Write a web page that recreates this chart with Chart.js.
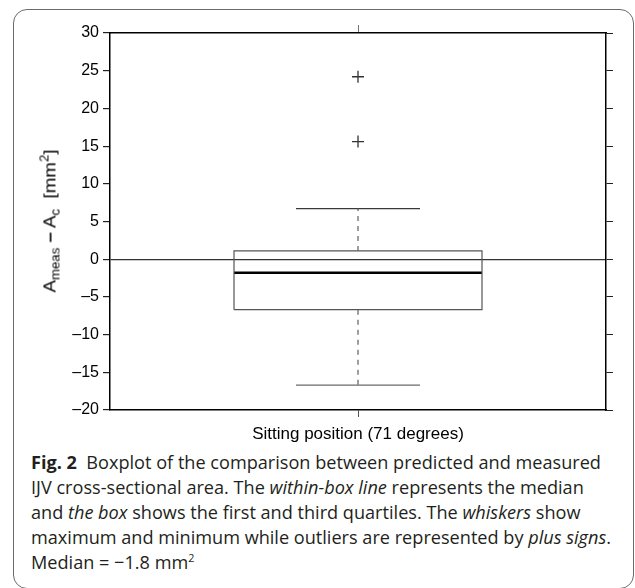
<!DOCTYPE html>
<html>
<head>
<meta charset="utf-8">
<script src="https://cdn.jsdelivr.net/npm/chart.js@4/dist/chart.umd.min.js"></script>
<style>
  html, body { margin: 0; padding: 0; background: #fff; }
  body { width: 635px; height: 588px; position: relative; overflow: hidden; }
  #frame {
    position: absolute; left: 13px; top: 9px; width: 621px; height: 580px;
    box-sizing: border-box; border: 1.5px solid #6b6b6b; border-radius: 14px;
  }
  #chartBox { position: absolute; left: 0; top: 0; width: 635px; height: 445px; }
  #ytitle {
    position: absolute; left: 50px; top: 221px; white-space: nowrap;
    font-family: "Liberation Sans", Arial, sans-serif; font-size: 17px; color: #000;
    transform: translate(-50%, -50%) rotate(-90deg);
  }
  #ytitle sub, #ytitle sup { font-size: 12px; }
  #caption {
    position: absolute; left: 31px; top: 449px; color: #231f20;
    font-family: "Open Sans", "Noto Sans", sans-serif; font-size: 18.5px; line-height: 25px;
    transform-origin: 0 0;
  }
  #caption div { white-space: nowrap; }
  #caption sup { font-size: 11px; line-height: 0; }
</style>
</head>
<body>
<div id="frame"></div>
<div id="chartBox"><canvas id="boxChart"></canvas></div>
<div id="ytitle">A<sub>meas</sub> <b>–</b> A<sub>c</sub>&nbsp; [mm<sup>2</sup>]</div>
<div id="caption">
  <div id="capLine1"><b>Fig. 2</b>&nbsp; Boxplot of the comparison between predicted and measured</div>
  <div>IJV cross-sectional area. The <i>within-box line</i> represents the median</div>
  <div>and <i>the box</i> shows the first and third quartiles. The <i>whiskers</i> show</div>
  <div>maximum and minimum while outliers are represented by <i>plus signs</i>.</div>
  <div>Median = −1.8 mm<sup>2</sup></div>
</div>
<script>
// data
const categories = ['Sitting position (71 degrees)'];
const quartiles = [-6.7, 1.1];     // Q1, Q3
const medians = [-1.8];
const whiskers = [-16.7, 6.7];     // min, max
const outliers = [15.6, 24.2];
const yTicks = [-20, -15, -10, -5, 0, 5, 10, 15, 20, 25, 30];

const center = 1;      // position of the single group on the x scale
const halfBox = 0.5;
const halfCap = 0.25;

const boxData = [
  { x: center - halfBox, y: quartiles[0] },
  { x: center + halfBox, y: quartiles[0] },
  { x: center + halfBox, y: quartiles[1] },
  { x: center - halfBox, y: quartiles[1] },
  { x: center - halfBox, y: quartiles[0] }
];

const lineDs = (data, color, width, dash) => ({
  data: data, showLine: true, borderColor: color, borderWidth: width,
  borderDash: dash || [], pointRadius: 0, tension: 0, fill: false
});

const fmt = v => (v < 0 ? '\u2013' + Math.abs(v) : String(v));
const tickFont = { family: '"Liberation Sans", Arial, sans-serif', size: 16 };

const ctx = document.getElementById('boxChart').getContext('2d');
new Chart(ctx, {
  type: 'scatter',
  data: {
    datasets: [
      lineDs([{ x: center, y: quartiles[1] }, { x: center, y: whiskers[1] }], '#6a6a6a', 1.3, [5, 5]),
      lineDs([{ x: center, y: quartiles[0] }, { x: center, y: whiskers[0] }], '#6a6a6a', 1.3, [5, 5]),
      lineDs([{ x: center - halfCap, y: whiskers[1] }, { x: center + halfCap, y: whiskers[1] }], '#3a3a3a', 1.2),
      lineDs([{ x: center - halfCap, y: whiskers[0] }, { x: center + halfCap, y: whiskers[0] }], '#6a6a6a', 1.2),
      lineDs(boxData, '#555', 1.2),
      lineDs([{ x: center - halfBox, y: medians[0] }, { x: center + halfBox, y: medians[0] }], '#000', 2.5),
      {
        data: outliers.map(v => ({ x: center, y: v })),
        pointStyle: 'cross', pointRadius: 6, borderColor: '#333', borderWidth: 1.3,
        backgroundColor: '#333'
      }
    ]
  },
  options: {
    responsive: true,
    maintainAspectRatio: false,
    animation: false,
    layout: { padding: 0 },
    plugins: { legend: { display: false }, tooltip: { enabled: false } },
    scales: {
      x: {
        type: 'linear', position: 'bottom', min: 0, max: 2,
        afterBuildTicks: axis => { axis.ticks = [{ value: center }]; },
        afterFit: axis => { axis.height = 35; },
        border: { color: '#000', width: 1.5 },
        grid: { drawOnChartArea: false, tickLength: 7, tickColor: '#555' },
        ticks: { callback: () => categories[0], color: '#000', padding: 7,
                 font: { family: '"Liberation Sans", Arial, sans-serif', size: 17 } }
      },
      x2: {
        type: 'linear', position: 'top', min: 0, max: 2,
        afterBuildTicks: axis => { axis.ticks = [{ value: center }]; },
        afterFit: axis => { axis.height = 33; },
        border: { color: '#000', width: 1.5 },
        grid: { drawOnChartArea: false, tickLength: 8, tickColor: '#777' },
        ticks: { display: false }
      },
      y: {
        position: 'left', min: -20, max: 30,
        afterBuildTicks: axis => { axis.ticks = yTicks.map(v => ({ value: v })); },
        afterFit: axis => { axis.width = 110; },
        border: { color: '#000', width: 1.5 },
        grid: {
          color: c => (c.tick && c.tick.value === 0 ? '#333' : 'rgba(0,0,0,0)'),
          lineWidth: 1.2, tickLength: 7, tickColor: '#222'
        },
        ticks: { callback: v => fmt(v), color: '#000', padding: 4, font: tickFont }
      },
      y2: {
        position: 'right', min: -20, max: 30,
        afterBuildTicks: axis => { axis.ticks = yTicks.map(v => ({ value: v })); },
        afterFit: axis => { axis.width = 29; },
        border: { color: '#000', width: 1.5 },
        grid: { drawOnChartArea: false, tickLength: 7, tickColor: '#222' },
        ticks: { display: false }
      }
    }
  }
});

// the original figure is stretched along the y title; match its length
const yt = document.getElementById('ytitle');
const ytLen = yt.getBoundingClientRect().height;
yt.style.transform = 'translate(-50%, -50%) rotate(-90deg) scaleX(' + (143 / ytLen) + ')';

// squeeze caption to the width of the original (condensed face)
const cap = document.getElementById('caption');
const w = document.getElementById('capLine1').getBoundingClientRect().width;
cap.style.transform = 'scaleX(' + (580 / w) + ')';
</script>
</body>
</html>
